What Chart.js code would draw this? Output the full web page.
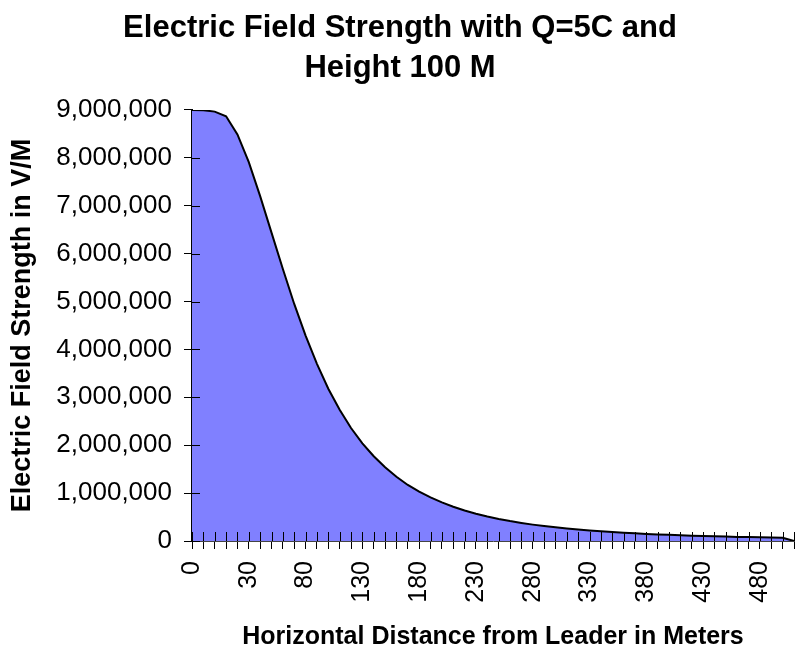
<!DOCTYPE html>
<html>
<head>
<meta charset="utf-8">
<script src="https://cdn.jsdelivr.net/npm/chart.js@4"></script>
<style>
  body{margin:0;background:#fff;}
  #wrap{width:799px;height:656px;}
</style>
</head>
<body>
<div id="wrap"><canvas id="chart" width="799" height="656"></canvas></div>
<script>
// horizontal distance from leader (m)
const distances = ['0','2','5','10','20','30','40','50','60','70','80','90','100',
  '110','120','130','140','150','160','170','180','190','200','210','220','230',
  '240','250','260','270','280','290','300','310','320','330','340','350','360',
  '370','380','390','400','410','420','430','440','450','460','470','480','490',
  '500','510'];

// field strength (V/M)
const fieldStrength = [9000000,8995000,8966000,8870000,8490000,7910000,7200000,
  6440000,5680000,4950000,4290000,3700000,3180000,2740000,2360000,2040000,
  1770000,1540000,1340000,1170000,1030000,910000,805000,715000,638000,570000,
  512000,461000,416000,377000,342000,312000,285000,260000,239000,220000,202000,
  187000,173000,160000,148000,138000,128000,120000,112000,105000,98000,92000,
  86000,81000,76000,72000,68000,0];

const yMax = 9000000;
const yStep = 1000000;

const FONT = "'Liberation Sans', Arial, sans-serif";
const PAD = {left: 6, right: 5, top: 0, bottom: 4};

// Excel style ticks that cross the axis: inner half drawn here
const crossTicks = {
  id: 'crossTicks',
  afterDraw(chart){
    const {ctx, chartArea, scales} = chart;
    const x = scales.x, y = scales.y;
    ctx.save();
    ctx.strokeStyle = '#000';
    ctx.lineWidth = 1;
    ctx.beginPath();
    x.ticks.forEach((t,i)=>{
      const px = Math.round(x.getPixelForTick(i)) + 0.5;
      ctx.moveTo(px, chartArea.bottom);
      ctx.lineTo(px, chartArea.bottom - 9);
    });
    y.ticks.forEach((t,i)=>{
      const py = Math.round(y.getPixelForTick(i)) + 0.5;
      ctx.moveTo(chartArea.left, py);
      ctx.lineTo(chartArea.left + 8, py);
    });
    ctx.stroke();
    ctx.restore();
  }
};

new Chart(document.getElementById('chart'), {
  type: 'line',
  data: {
    labels: distances,
    datasets: [{
      data: fieldStrength,
      borderColor: '#000',
      backgroundColor: '#8080ff',
      borderWidth: 2,
      fill: 'origin',
      tension: 0,
      pointRadius: 0,
    }]
  },
  options: {
    responsive: false,
    animation: false,
    layout: {padding: PAD},
    plugins: {
      legend: {display: false},
      tooltip: {enabled: false},
      title: {
        display: true,
        text: ['Electric Field Strength with Q=5C and', 'Height 100 M'],
        color: '#000',
        font: {family: FONT, size: 31, weight: 'bold', lineHeight: 1.29},
        padding: {top: 8, bottom: 22}
      }
    },
    scales: {
      x: {
        z: 1,
        offset: false,
        grid: {drawOnChartArea: false, drawTicks: true, tickLength: 8, color: '#000'},
        border: {display: true, color: '#444', width: 1},
        ticks: {
          autoSkip: false,
          maxRotation: 90,
          minRotation: 90,
          padding: 12,
          color: '#000',
          font: {family: FONT, size: 25},
          callback: (v, i) => i % 5 === 0 ? distances[i] : ''
        },
        title: {
          display: true,
          text: 'Horizontal Distance from Leader in Meters',
          color: '#000',
          font: {family: FONT, size: 25, weight: 'bold'},
          padding: {top: 0, bottom: 0}
        },
        afterFit: s => {
          s.height = 656 - 541 - PAD.bottom;
          s.paddingLeft = 0;
          s.paddingRight = 0;
        }
      },
      y: {
        z: 1,
        min: 0,
        max: yMax,
        grid: {drawOnChartArea: false, drawTicks: true, tickLength: 8, color: '#000'},
        border: {display: true, color: '#000', width: 2},
        ticks: {
          stepSize: yStep,
          padding: 12,
          color: '#000',
          font: {family: FONT, size: 26},
          callback: v => Number(v).toLocaleString('en-US')
        },
        title: {
          display: true,
          text: 'Electric Field Strength in V/M',
          color: '#000',
          font: {family: FONT, size: 27, weight: 'bold'},
          padding: {top: 0, bottom: 0}
        },
        afterFit: s => {
          s.width = 192 - PAD.left;
          s.paddingTop = 0;
          s.paddingBottom = 0;
        }
      }
    }
  },
  plugins: [crossTicks]
});
</script>
</body>
</html>
